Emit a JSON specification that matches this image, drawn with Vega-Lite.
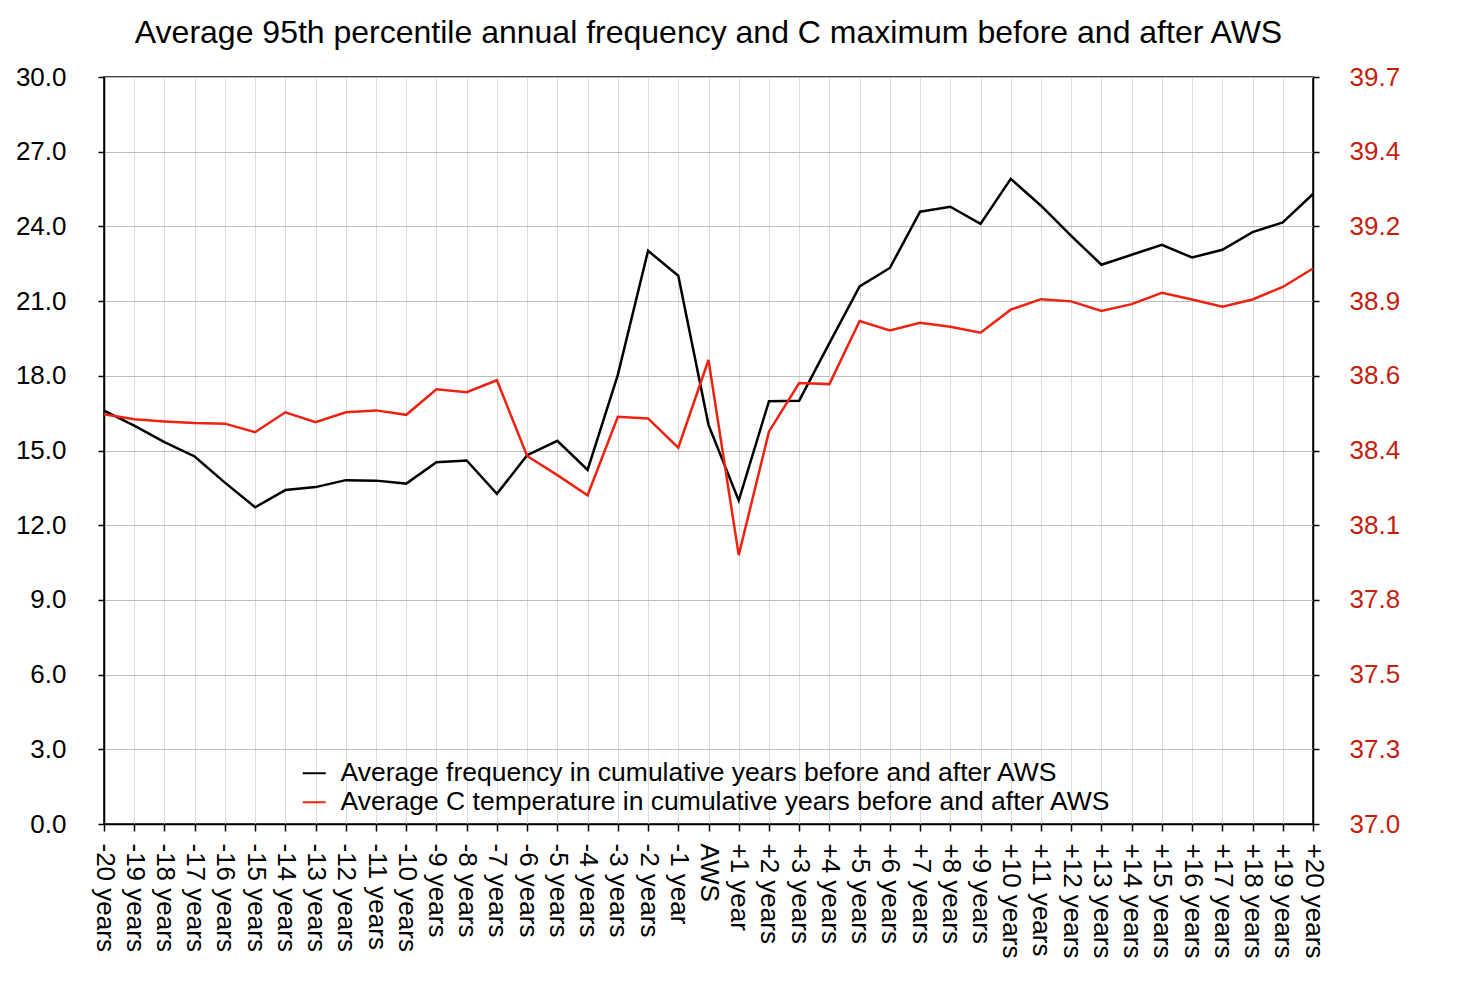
{
  "$schema": "https://vega.github.io/schema/vega-lite/v6.json",
  "autosize": "none",
  "width": 1209,
  "height": 747,
  "padding": {"left": 104, "top": 77, "right": 145, "bottom": 167},
  "background": "white",
  "config": {
    "font": "Liberation Sans",
    "view": {"stroke": "black", "strokeWidth": 1.5},
    "axis": {"domainColor": "black", "domainWidth": 1.5, "tickColor": "black", "tickWidth": 1.5, "labelFont": "Liberation Sans", "labelFontSize": 26, "labelColor": "black", "title": null}
  },
  "title": {"text": "Average 95th percentile annual frequency and C maximum before and after AWS", "font": "Liberation Sans", "fontSize": 32, "fontWeight": "normal", "color": "black", "anchor": "middle", "offset": 14},
  "data": {"values": [
    {"period": "-20 years", "freq": 16.6, "temp": 38.481},
    {"period": "-19 years", "freq": 16.0, "temp": 38.463},
    {"period": "-18 years", "freq": 15.34, "temp": 38.455},
    {"period": "-17 years", "freq": 14.76, "temp": 38.449},
    {"period": "-16 years", "freq": 13.71, "temp": 38.447},
    {"period": "-15 years", "freq": 12.72, "temp": 38.416},
    {"period": "-14 years", "freq": 13.41, "temp": 38.488},
    {"period": "-13 years", "freq": 13.53, "temp": 38.452},
    {"period": "-12 years", "freq": 13.81, "temp": 38.488},
    {"period": "-11 years", "freq": 13.79, "temp": 38.495},
    {"period": "-10 years", "freq": 13.67, "temp": 38.479},
    {"period": "-9 years", "freq": 14.53, "temp": 38.571},
    {"period": "-8 years", "freq": 14.6, "temp": 38.561},
    {"period": "-7 years", "freq": 13.26, "temp": 38.604},
    {"period": "-6 years", "freq": 14.81, "temp": 38.33},
    {"period": "-5 years", "freq": 15.39, "temp": 38.261},
    {"period": "-4 years", "freq": 14.22, "temp": 38.188},
    {"period": "-3 years", "freq": 18.04, "temp": 38.472},
    {"period": "-2 years", "freq": 23.02, "temp": 38.466},
    {"period": "-1 year", "freq": 22.02, "temp": 38.36},
    {"period": "AWS", "freq": 16.03, "temp": 38.677},
    {"period": "+1 year", "freq": 12.99, "temp": 37.972},
    {"period": "+2 years", "freq": 16.98, "temp": 38.418},
    {"period": "+3 years", "freq": 17.0, "temp": 38.594},
    {"period": "+4 years", "freq": 19.31, "temp": 38.59},
    {"period": "+5 years", "freq": 21.59, "temp": 38.818},
    {"period": "+6 years", "freq": 22.33, "temp": 38.784},
    {"period": "+7 years", "freq": 24.59, "temp": 38.812},
    {"period": "+8 years", "freq": 24.79, "temp": 38.797},
    {"period": "+9 years", "freq": 24.1, "temp": 38.776},
    {"period": "+10 years", "freq": 25.91, "temp": 38.859},
    {"period": "+11 years", "freq": 24.83, "temp": 38.897},
    {"period": "+12 years", "freq": 23.62, "temp": 38.889},
    {"period": "+13 years", "freq": 22.46, "temp": 38.854},
    {"period": "+14 years", "freq": 22.86, "temp": 38.879},
    {"period": "+15 years", "freq": 23.26, "temp": 38.92},
    {"period": "+16 years", "freq": 22.75, "temp": 38.896},
    {"period": "+17 years", "freq": 23.06, "temp": 38.87},
    {"period": "+18 years", "freq": 23.77, "temp": 38.896},
    {"period": "+19 years", "freq": 24.16, "temp": 38.941},
    {"period": "+20 years", "freq": 25.3, "temp": 39.008}
  ]},
  "encoding": {
    "x": {"field": "period", "type": "ordinal", "sort": null,
      "scale": {"type": "point", "padding": 0},
      "axis": {"labelAngle": 90, "labelAlign": "left", "labelBaseline": "middle", "tickSize": 7, "labelPadding": 12, "grid": true, "gridColor": "#dcdcdc", "gridWidth": 1}}
  },
  "layer": [
    {
      "mark": {"type": "line", "strokeWidth": 2.5},
      "encoding": {
        "y": {"field": "freq", "type": "quantitative", "scale": {"domain": [0, 30], "nice": false, "zero": false},
          "axis": {"orient": "left", "values": [0, 3, 6, 9, 12, 15, 18, 21, 24, 27, 30], "format": ".1f", "tickSize": 6, "labelPadding": 32, "grid": true, "gridColor": "#bdbdbd", "gridWidth": 1}},
        "color": {"datum": "Average frequency in cumulative years before and after AWS", "type": "nominal",
          "scale": {"domain": ["Average frequency in cumulative years before and after AWS", "Average C temperature in cumulative years before and after AWS"], "range": ["black", "#ee2211"]},
          "legend": {"title": null, "orient": "none", "legendX": 197, "legendY": 683, "symbolType": "stroke", "symbolSize": 529, "symbolStrokeWidth": 2, "labelFontSize": 26.5, "labelFont": "Liberation Sans", "labelColor": "black", "labelOffset": 13, "rowPadding": 2, "labelLimit": 1000}}
      }
    },
    {
      "mark": {"type": "line", "strokeWidth": 2.5},
      "encoding": {
        "y": {"field": "temp", "type": "quantitative", "scale": {"domain": [37, 39.7], "nice": false, "zero": false},
          "axis": {"orient": "right", "values": [37, 37.27, 37.54, 37.81, 38.08, 38.35, 38.62, 38.89, 39.16, 39.43, 39.7], "format": ".1f", "tickSize": 6, "labelPadding": 30, "grid": false, "labelColor": "#c41e0e"}},
        "color": {"datum": "Average C temperature in cumulative years before and after AWS", "type": "nominal"}
      }
    }
  ],
  "resolve": {"scale": {"y": "independent"}}
}
